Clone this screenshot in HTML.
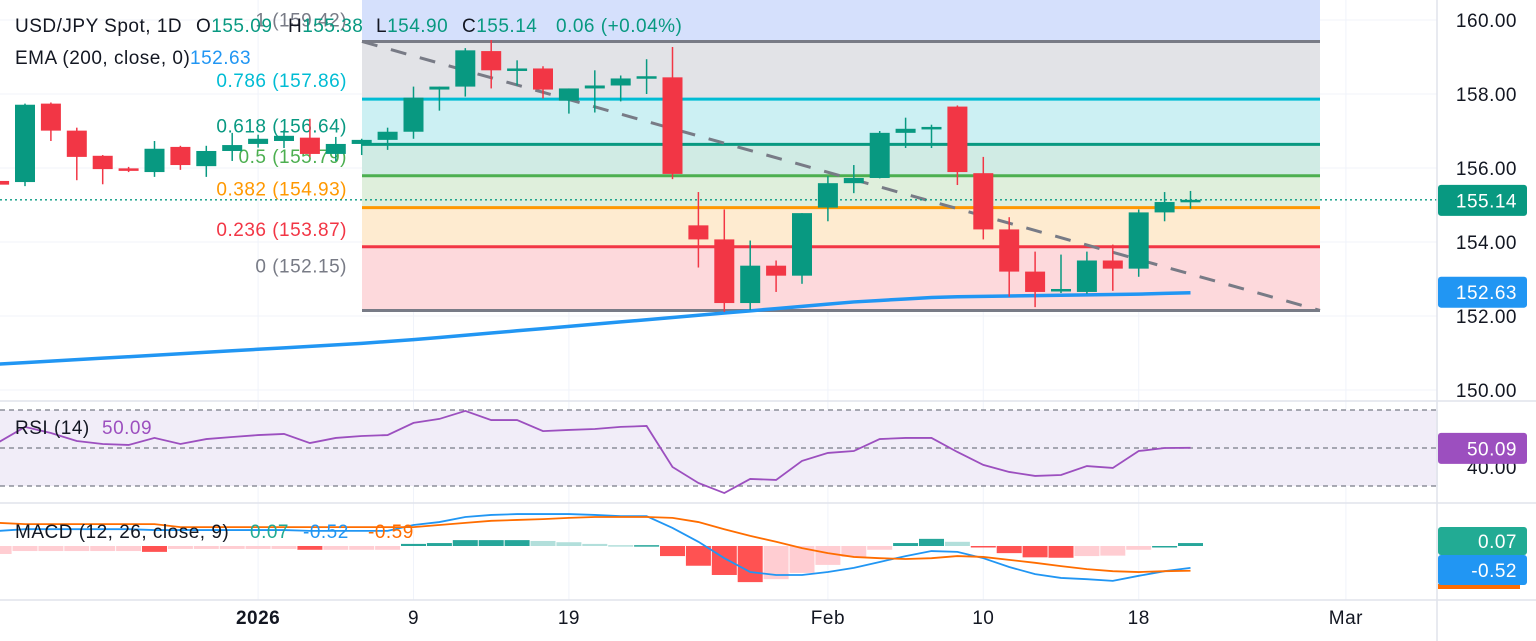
<!DOCTYPE html>
<html><head><meta charset="utf-8"><style>
html,body{margin:0;padding:0;background:#fff;width:1536px;height:641px;overflow:hidden}
svg{display:block;font-family:"Liberation Sans","DejaVu Sans",sans-serif}
text{letter-spacing:0.5px}
</style></head><body>
<svg id="chart" width="1536" height="641" viewBox="0 0 1536 641" xmlns="http://www.w3.org/2000/svg">
<g id="grid"></g>
<g id="fib"></g>
<g id="ema"></g>
<g id="candles"></g>
<g id="rsi"></g>
<g id="macd"></g>
<g id="axes"></g>
<g id="legend" font-size="19">
 <text y="32" fill="#131722"><tspan x="15">USD/JPY Spot, 1D</tspan><tspan x="196">O</tspan><tspan fill="#089981">155.09</tspan><tspan x="288">H</tspan><tspan fill="#089981">155.38</tspan><tspan x="376">L</tspan><tspan fill="#089981">154.90</tspan><tspan x="462">C</tspan><tspan fill="#089981">155.14</tspan><tspan x="556" fill="#089981">0.06 (+0.04%)</tspan></text>
 <text y="64" fill="#131722"><tspan x="15">EMA (200, close, 0)</tspan><tspan x="190" fill="#2196f3">152.63</tspan></text>
 <text y="434" fill="#131722"><tspan x="15">RSI (14)</tspan><tspan x="102" fill="#9c4fbf">50.09</tspan></text>
 <text y="538" fill="#131722"><tspan x="15">MACD (12, 26, close, 9)</tspan><tspan x="250" fill="#22ab94">0.07</tspan><tspan x="303" fill="#2196f3">-0.52</tspan><tspan x="368" fill="#ff6d00">-0.59</tspan></text>
</g>
</svg>
<script>
// ---- data ----
const opens  = [155.65,155.62,157.74,157.01,156.33,155.99,155.89,156.57,156.05,156.46,156.65,156.73,156.82,156.38,156.65,156.76,156.98,158.12,158.20,159.16,158.64,158.69,157.82,158.15,158.23,158.42,158.45,154.45,154.07,152.35,153.36,153.09,154.93,155.59,155.73,156.95,157.06,157.66,155.86,154.34,153.20,152.68,152.65,153.50,153.28,154.80,155.09];
const highs  = [155.70,157.74,157.77,157.09,156.35,156.03,156.73,156.60,156.60,156.95,156.90,157.03,157.33,156.84,156.79,157.09,158.20,158.20,159.24,159.46,158.91,158.75,158.15,158.64,158.50,158.94,159.27,155.35,154.88,154.04,153.50,154.78,155.78,156.08,157.00,157.36,157.17,157.69,156.30,154.67,153.74,153.66,153.74,153.93,154.88,155.35,155.38];
const lows   = [155.50,155.51,156.73,155.67,155.56,155.89,155.76,155.95,155.76,156.19,156.55,156.54,156.30,156.19,156.35,156.49,156.79,157.55,157.93,158.15,158.23,157.88,157.47,157.50,157.80,158.00,155.70,153.31,152.11,152.16,152.65,152.87,154.56,155.32,155.72,156.54,156.54,155.54,154.07,152.52,152.24,152.62,152.60,152.68,153.06,154.56,154.90];
const closes = [155.55,157.71,157.01,156.30,155.97,155.95,156.52,156.08,156.46,156.62,156.79,156.87,156.38,156.65,156.76,156.98,157.90,158.20,159.18,158.64,158.69,158.12,158.15,158.23,158.42,158.48,155.84,154.07,152.35,153.36,153.09,154.78,155.59,155.73,156.95,157.06,157.11,155.89,154.34,153.20,152.65,152.73,153.50,153.28,154.80,155.08,155.14];
const emaValues = [150.70,150.74,150.78,150.82,150.86,150.90,150.94,150.98,151.02,151.06,151.10,151.14,151.18,151.22,151.26,151.31,151.36,151.42,151.48,151.54,151.60,151.66,151.72,151.78,151.84,151.90,151.96,152.02,152.08,152.14,152.20,152.26,152.32,152.38,152.42,152.46,152.50,152.52,152.53,152.54,152.55,152.56,152.57,152.58,152.59,152.61,152.63];
const rsiValues = [53.2,61.1,57.9,53.7,52.1,51.6,55.3,52.1,54.7,55.8,56.8,57.4,52.6,55.3,56.3,56.8,63.2,65.3,69.5,64.7,64.7,58.9,59.5,60.0,61.1,61.6,40.0,31.6,26.3,33.7,33.2,43.2,47.4,48.4,54.7,55.3,55.3,47.9,41.1,37.4,35.3,35.8,40.5,39.5,48.4,50.0,50.09];
const macdValues = [0.36,0.40,0.40,0.40,0.40,0.40,0.38,0.38,0.38,0.38,0.38,0.38,0.36,0.36,0.36,0.36,0.50,0.57,0.69,0.74,0.76,0.76,0.76,0.74,0.71,0.71,0.43,0.10,-0.29,-0.62,-0.69,-0.69,-0.62,-0.52,-0.38,-0.24,-0.12,-0.14,-0.29,-0.50,-0.67,-0.76,-0.79,-0.83,-0.71,-0.60,-0.52];
const signalValues = [0.55,0.52,0.52,0.52,0.52,0.52,0.52,0.45,0.45,0.45,0.45,0.45,0.45,0.45,0.45,0.45,0.45,0.50,0.55,0.60,0.62,0.64,0.67,0.69,0.69,0.69,0.67,0.57,0.40,0.24,0.10,-0.05,-0.17,-0.26,-0.29,-0.31,-0.29,-0.24,-0.26,-0.33,-0.40,-0.48,-0.55,-0.60,-0.62,-0.60,-0.59];
const fibRatios = ["1","0.786","0.618","0.5","0.382","0.236","0"];
const fibPrices = [159.42,157.86,156.64,155.79,154.93,153.87,152.15];
const priceTicks = [160,158,156,154,152,150];
const dateLabels = ["2026","9","19","Feb","10","18","Mar"];
const dateIndex = [10,16,22,32,38,44,52];

// ---- scales ----
const NS="http://www.w3.org/2000/svg";
const xOf = i => 25 + (i-1)*25.9;
const yP = p => 316 - (p-152)*37;
const yR = r => 448 - (r-50)*1.9;
const yM = v => 546 - v*42;
function mk(tag, attrs, parent){const e=document.createElementNS(NS,tag);for(const k in attrs)e.setAttribute(k,attrs[k]);parent.appendChild(e);return e;}
const G=id=>document.getElementById(id);

// grid
const gridG=G('grid');
priceTicks.forEach(p=>{const l=mk('line',{x1:0,x2:1437,y1:yP(p),y2:yP(p),stroke:'#f0f3fa','stroke-width':1},gridG);

});
dateIndex.forEach(i=>{const l=mk('line',{x1:xOf(i),x2:xOf(i),y1:0,y2:600,stroke:'#f0f3fa','stroke-width':1},gridG);

});

// fib
const fibG=G('fib');
const fx1=362,fx2=1320;
const fibFills=['#e2e3e7','#ccf0f3','#d0ebe4','#dfefdc','#feebd0','#fdd9dc'];
const fibColors=['#787b86','#00bcd4','#089981','#4caf50','#ff9800','#f23645','#787b86'];
const topZone=mk('rect',{x:fx1,y:0,width:fx2-fx1,height:yP(fibPrices[0]),fill:'#d5e0fc'},fibG);


for(let k=0;k<6;k++){const r=mk('rect',{x:fx1,y:yP(fibPrices[k]),width:fx2-fx1,height:yP(fibPrices[k+1])-yP(fibPrices[k]),fill:fibFills[k]},fibG);

}
const labOff=[-15,-12,-12,-13,-12,-11,-38];
fibPrices.forEach((p,k)=>{const l=mk('line',{x1:fx1,x2:fx2,y1:yP(p),y2:yP(p),stroke:fibColors[k],'stroke-width':3},fibG);


const t=mk('text',{x:347,y:yP(p)+labOff[k],'text-anchor':'end','font-size':19,fill:fibColors[k]},fibG);
t.textContent=fibRatios[k]+' ('+p.toFixed(2)+')';

});
const tl=mk('line',{x1:fx1,y1:yP(fibPrices[0]),x2:fx2,y2:yP(fibPrices[6]),stroke:'#787b86','stroke-width':3,'stroke-dasharray':'16 14'},fibG);



// last price dotted
const lastClose=closes[closes.length-1];
const lp=mk('line',{x1:0,x2:1437,y1:yP(lastClose),y2:yP(lastClose),stroke:'#089981','stroke-width':1.3,'stroke-dasharray':'2 3'},G('candles'));



// ema
const em=mk('polyline',{points:emaValues.map((v,i)=>xOf(i)+','+yP(v)).join(' '),fill:'none',stroke:'#2196f3','stroke-width':3.5},G('ema'));



// candles
const cg=G('candles');
opens.forEach((o,i)=>{const c=closes[i],up=c>=o,col=up?'#089981':'#f23645',x=xOf(i);
const w=mk('line',{x1:x,x2:x,y1:yP(highs[i]),y2:yP(lows[i]),stroke:col,'stroke-width':1.5},cg);


const yt=yP(Math.max(o,c)),h=Math.max(2.5,yP(Math.min(o,c))-yt);
const b=mk('rect',{x:x-10,y:yt,width:20,height:h,fill:col},cg);

});

// rsi
const rg=G('rsi');
const band=mk('rect',{x:0,y:yR(70),width:1439,height:yR(30)-yR(70),fill:'#f1edf8'},rg);


[70,50,30].forEach(v=>{const l=mk('line',{x1:0,x2:1439,y1:yR(v),y2:yR(v),stroke:'#787b86','stroke-width':1.2,'stroke-dasharray':'5 4'},rg);

});
const rl=mk('polyline',{points:rsiValues.map((v,i)=>xOf(i)+','+yR(v)).join(' '),fill:'none',stroke:'#9c4fbf','stroke-width':1.8},rg);



// macd
const mg=G('macd');
macdValues.forEach((m,i)=>{const h=m-signalValues[i],prev=i>0?macdValues[i-1]-signalValues[i-1]:h;
const col=h>=0?(h>=prev?'#26a69a':'#b2dfdb'):(h<prev?'#ff5252':'#ffcdd2');
const y0=yM(0),y1=yM(h);
const r=mk('rect',{x:xOf(i)-12.5,y:Math.min(y0,y1),width:25,height:Math.max(1.5,Math.abs(y1-y0)),fill:col},mg);

});
const ml=mk('polyline',{points:macdValues.map((v,i)=>xOf(i)+','+yM(v)).join(' '),fill:'none',stroke:'#2196f3','stroke-width':1.8},mg);


const sl=mk('polyline',{points:signalValues.map((v,i)=>xOf(i)+','+yM(v)).join(' '),fill:'none',stroke:'#ff6d00','stroke-width':1.8},mg);



// axes & separators
const ax=G('axes');
const wb=mk('rect',{x:1438,y:0,width:98,height:641,fill:'#fff'},ax);


[[0,401,1536,401],[0,503,1536,503],[0,600,1536,600],[1437,0,1437,641]].forEach(s=>{const l=mk('line',{x1:s[0],y1:s[1],x2:s[2],y2:s[3],stroke:'#e0e3eb','stroke-width':1.5},ax);

});
priceTicks.forEach(p=>{const t=mk('text',{x:1517,y:yP(p)+7,'text-anchor':'end','font-size':19,fill:'#131722'},ax);
t.textContent=p.toFixed(2);

});
const r40=mk('text',{x:1517,y:yR(40)+7,'text-anchor':'end','font-size':19,fill:'#131722'},ax);
r40.textContent='40.00';


dateLabels.forEach((d,k)=>{const t=mk('text',{x:xOf(dateIndex[k]),y:624,'text-anchor':'middle','font-size':19,fill:'#131722','font-weight':k===0?'bold':'normal'},ax);
t.textContent=d;

});
function badge(y,h,txt,bg,name){const r=mk('rect',{x:1438,y:y,width:89,height:h,rx:3,fill:bg},ax);


const t=mk('text',{x:1517,y:y+h/2+7,'text-anchor':'end','font-size':19,fill:'#fff'},ax);
t.textContent=txt;

}
const lastE=emaValues[emaValues.length-1];
badge(yP(lastClose)-15,31,lastClose.toFixed(2),'#089981','last-price-badge');
badge(yP(lastE)-16,31,lastE.toFixed(2),'#2196f3','ema-badge');
badge(yR(rsiValues[rsiValues.length-1])-15,31,rsiValues[rsiValues.length-1].toFixed(2),'#9c4fbf','rsi-badge');
const hL=macdValues[macdValues.length-1]-signalValues[signalValues.length-1];
badge(527,28,hL.toFixed(2),'#22ab94','histogram-badge');
const ob=mk('rect',{x:1438,y:584,width:82,height:5,fill:'#ff6d00'},ax);


badge(555,30,macdValues[macdValues.length-1].toFixed(2),'#2196f3','macd-badge');
</script>
</body></html>
